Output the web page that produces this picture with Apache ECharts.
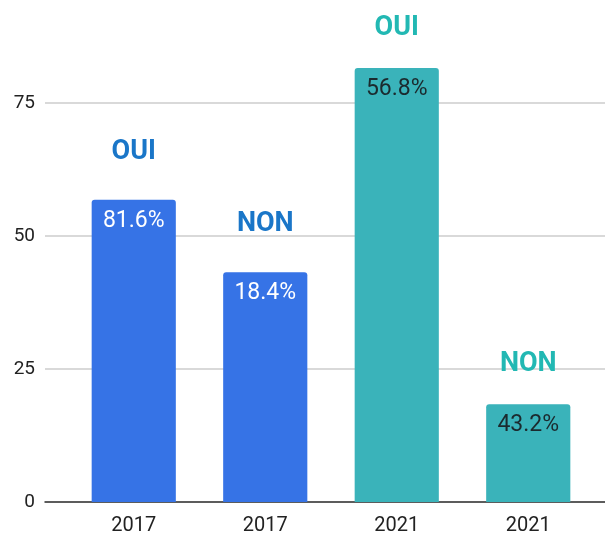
<!DOCTYPE html>
<html><head><meta charset="utf-8">
<script src="https://cdn.jsdelivr.net/npm/echarts@6/dist/echarts.min.js"></script>
<style>html,body{margin:0;padding:0;background:#fff}#c{width:605px;height:536px}</style>
</head><body><div id="c"></div>
<script>
const categories = ['2017', '2017', '2021', '2021'];
const values = [56.8, 43.2, 81.6, 18.4];
const pctLabels = ['81.6%', '18.4%', '56.8%', '43.2%'];
const answers = ['OUI', 'NON', 'OUI', 'NON'];
const yTicks = [0, 25, 50, 75];

const barColors = ['#3673E6', '#3673E6', '#3AB3BA', '#3AB3BA'];
const answerColors = ['#1a76c8', '#1a76c8', '#22b8b3', '#22b8b3'];
const pctColors = ['#ffffff', '#ffffff', '#1b2a2e', '#1b2a2e'];
const answerGap = [34, 34, 26, 26];

const chart = echarts.init(document.getElementById('c'));
const font = 'Roboto, "Noto Sans", sans-serif';
chart.setOption({
  animation: false,
  grid: [
    { left: 45, right: 0, top: 2, bottom: 34 },
    { left: 68, right: 11, top: 2, bottom: 34 }
  ],
  xAxis: [
    { type: 'category', gridIndex: 0, data: categories, axisLine: { lineStyle: { color: '#333', width: 1.5 } }, axisTick: { show: false }, axisLabel: { show: false } },
    { type: 'category', gridIndex: 1, data: categories, axisLine: { show: false }, axisTick: { show: false },
      axisLabel: { color: '#222', fontSize: 20, fontFamily: font, margin: 14 } }
  ],
  yAxis: [
    { type: 'value', gridIndex: 0, min: 0, max: 94, interval: 25,
      axisLabel: { color: '#222', fontSize: 19, fontFamily: font, margin: 10, showMaxLabel: false,
        formatter: v => (yTicks.indexOf(v) >= 0 ? String(v) : '') },
      splitLine: { showMaxLine: false, lineStyle: { color: '#cccccc', width: 1.5 } }, axisLine: { show: false }, axisTick: { show: false } },
    { type: 'value', gridIndex: 1, min: 0, max: 94, interval: 25, show: false, splitLine: { show: false } }
  ],
  series: [
    {
      type: 'bar', xAxisIndex: 1, yAxisIndex: 1, barWidth: '64%',
      data: values.map((v, i) => ({ value: v, itemStyle: { color: barColors[i], borderRadius: [3, 3, 0, 0] },
        label: { color: pctColors[i] } })),
      label: { show: true, position: 'insideTop', distance: 10, fontSize: 23, fontFamily: font,
        formatter: p => pctLabels[p.dataIndex] }
    },
    {
      type: 'bar', xAxisIndex: 1, yAxisIndex: 1, barWidth: '64%', barGap: '-100%', silent: true,
      data: values.map((v, i) => ({ value: v, itemStyle: { color: 'rgba(0,0,0,0)' },
        label: { color: answerColors[i], distance: answerGap[i] } })),
      label: { show: true, position: 'top', fontSize: 27, fontWeight: 'bold', fontFamily: font,
        formatter: p => answers[p.dataIndex] }
    }
  ]
});
</script></body></html>
